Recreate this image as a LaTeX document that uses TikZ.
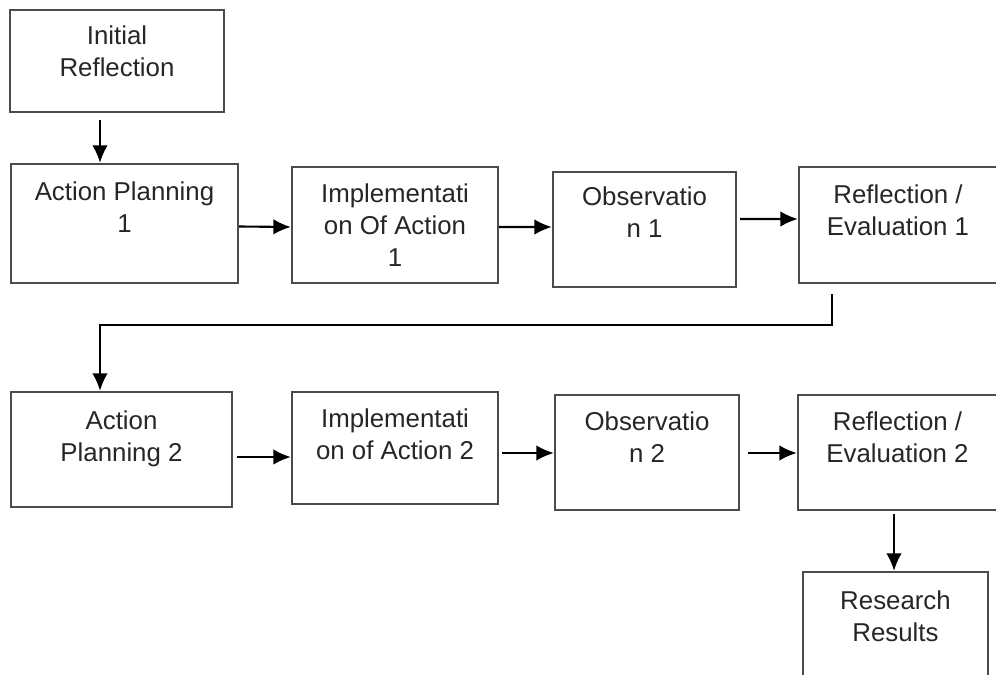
\documentclass[tikz,border=0pt]{standalone}
\usepackage{fontspec}
\setmainfont{Liberation Sans}
\usepackage{tikz}
\usetikzlibrary{positioning,fit}
\usetikzlibrary{arrows.meta}

\begin{document}
\begin{tikzpicture}[x=0.02cm,y=-0.02cm,
    stage/.style={draw=black!70, line width=1.3pt, inner sep=0pt},
    stagetext/.style={align=center, inner sep=0pt, text=black!85,
      font=\fontsize{14.7}{18.2}\selectfont},
    flow/.style={-{Latex[length=3.5mm,width=3.1mm]}, line width=1.2pt}]
    \useasboundingbox (0,0) rectangle (996,675);
    \clip (0,0) rectangle (996,675);
    % first cycle
    \node[stage, fit={(10,10) (224,112)}] (ir) {};
    \node[stage, fit={(11,164) (238,283)}] (ap1) {};
    \node[stage, fit={(292,167) (498,283)}] (im1) {};
    \node[stage, fit={(553,172) (736,287)}] (ob1) {};
    \node[stage, fit={(799,167) (997,283)}] (rf1) {};
    % second cycle
    \node[stage, fit={(11,392) (232,507)}] (ap2) {};
    \node[stage, fit={(292,392) (498,504)}] (im2) {};
    \node[stage, fit={(555,395) (739,510)}] (ob2) {};
    \node[stage, fit={(798,395) (997,510)}] (rf2) {};
    \node[stage, fit={(803,572) (988,690)}] (rr) {};
    % texts
    \node[stagetext, below=0.33cm of ir.north] (ir-t) {Initial\\Reflection};
    \node[stagetext, below=0.37cm of ap1.north] (ap1-t) {Action Planning\\1};
    \node[stagetext, below=0.35cm of im1.north] (im1-t) {Implementati\\on Of Action\\1};
    \node[stagetext, below=0.31cm of ob1.north] (ob1-t) {Observatio\\n 1};
    \node[stagetext, below=0.37cm of rf1.north] (rf1-t) {Reflection /\\Evaluation 1};
    \node[stagetext, below=0.39cm of ap2.north] (ap2-t) {Action\\Planning 2};
    \node[stagetext, below=0.35cm of im2.north] (im2-t) {Implementati\\on of Action 2};
    \node[stagetext, below=0.35cm of ob2.north] (ob2-t) {Observatio\\n 2};
    \node[stagetext, below=0.35cm of rf2.north] (rf2-t) {Reflection /\\Evaluation 2};
    \node[stagetext, below=0.39cm of rr.north] (rr-t) {Research\\Results};
    % arrows
    \draw[flow] ([shift={(-17,7)}]ir.south) -- ([shift={(-24.5,0)}]ap1.north);
    \draw[flow] ([shift={(0,3)}]ap1.east) -- ([shift={(0,2)}]im1.west);
    \draw[flow] ([shift={(0,2)}]im1.east) -- ([shift={(0,-2.5)}]ob1.west);
    \draw[flow] ([shift={(3,-10.5)}]ob1.east) -- ([shift={(0,-6)}]rf1.west);
    \draw[flow] ([shift={(-66,10)}]rf1.south) |- ([shift={(-21.5,-66)}]ap2.north)
        -- ([shift={(-21.5,0)}]ap2.north);
    \draw[flow] ([shift={(4,7.5)}]ap2.east) -- ([shift={(0,9)}]im2.west);
    \draw[flow] ([shift={(3,5)}]im2.east) -- ([shift={(0,0.5)}]ob2.west);
    \draw[flow] ([shift={(8,0.5)}]ob2.east) -- ([shift={(0,0.5)}]rf2.west);
    \draw[flow] ([shift={(-3.5,3)}]rf2.south) -- ([shift={(-1.5,0)}]rr.north);
\end{tikzpicture}
\end{document}
